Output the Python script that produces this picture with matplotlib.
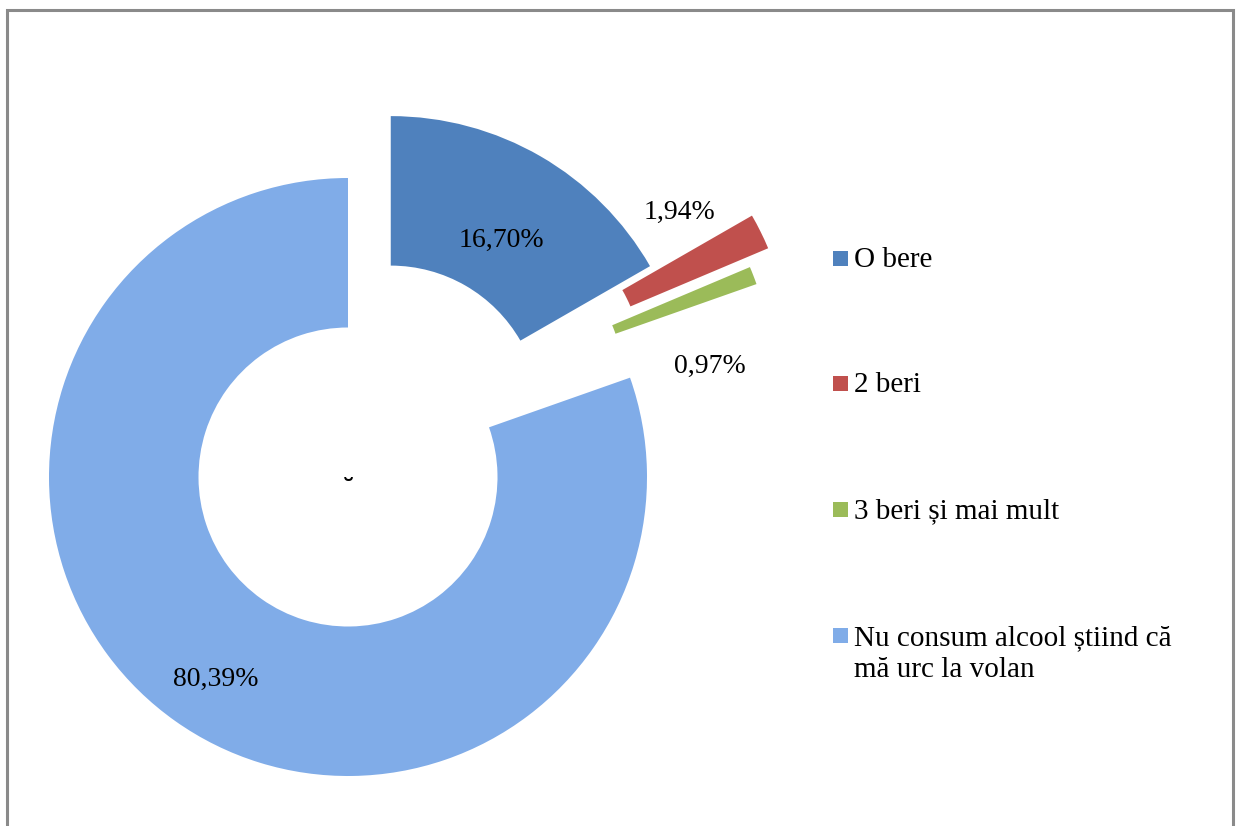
import matplotlib
matplotlib.use("Agg")
import matplotlib.pyplot as plt
from matplotlib.patches import Rectangle

# data
categories = ["O bere", "2 beri", "3 beri și mai mult",
              "Nu consum alcool știind că\nmă urc la volan"]
values = [16.70, 1.94, 0.97, 80.39]
value_labels = ["16,70%", "1,94%", "0,97%", "80,39%"]
colors = ["#4F81BD", "#C0504D", "#9BBB59", "#80ACE8"]

# shift of each exploded ring piece (data units, radius = 1)
shifts = [(0.143, 0.207), (0.484, 0.376), (0.423, 0.313), (0.0, 0.0)]

W, H = 1237, 826
cx, cy, R = 348, 477, 299  # ring centre and radius in pixels

plt.rcParams["font.family"] = ["Liberation Serif", "DejaVu Serif"]

fig = plt.figure(figsize=(W / 100, H / 100), dpi=100)
ax = fig.add_axes([0, 0, 1, 1])

wedges, _ = ax.pie(values, startangle=90, counterclock=False, radius=1,
                   colors=colors, wedgeprops=dict(width=0.5, linewidth=0))
for w, s in zip(wedges, shifts):
    w.set_center(s)

ax.set_xlim(-cx / R, (W - cx) / R)
ax.set_ylim(-(H - cy) / R, cy / R)
ax.set_aspect("equal")
ax.axis("off")


def px(x, y):
    return (x - cx) / R, (cy - y) / R


# value labels (pixel spots)
label_pos = [(501, 240), (679, 212), (710, 366), (216, 679)]
for txt, (x, y) in zip(value_labels, label_pos):
    ax.text(*px(x, y), txt, fontsize=20, ha="center", va="center", color="black")

# the stray little mark in the middle
ax.text(*px(348, 498), "˘", fontsize=19, ha="center", va="baseline",
        family=["DejaVu Sans"], fontweight="bold")

# legend drawn by hand
leg_y = [258, 383, 509, 635]
for name, c, y in zip(categories, colors, leg_y):
    fig.add_artist(Rectangle((833 / W, 1 - (y + 7.5) / H), 15 / W, 15 / H,
                             transform=fig.transFigure, color=c, lw=0))
    if "\n" in name:
        fig.text(854 / W, 1 - (y - 10) / H, name, fontsize=21, ha="left",
                 va="top", linespacing=1.3)
    else:
        fig.text(854 / W, 1 - (y + 2) / H, name, fontsize=21, ha="left",
                 va="center")

# grey frame around the chart
fig.add_artist(Rectangle((6.5 / W, -0.05), (1233 - 6.5) / W, 1.05 - 9.7 / H,
                         transform=fig.transFigure, fill=False,
                         edgecolor="#8a8a8a", lw=2.2))

fig.savefig("out.png", dpi=100)
